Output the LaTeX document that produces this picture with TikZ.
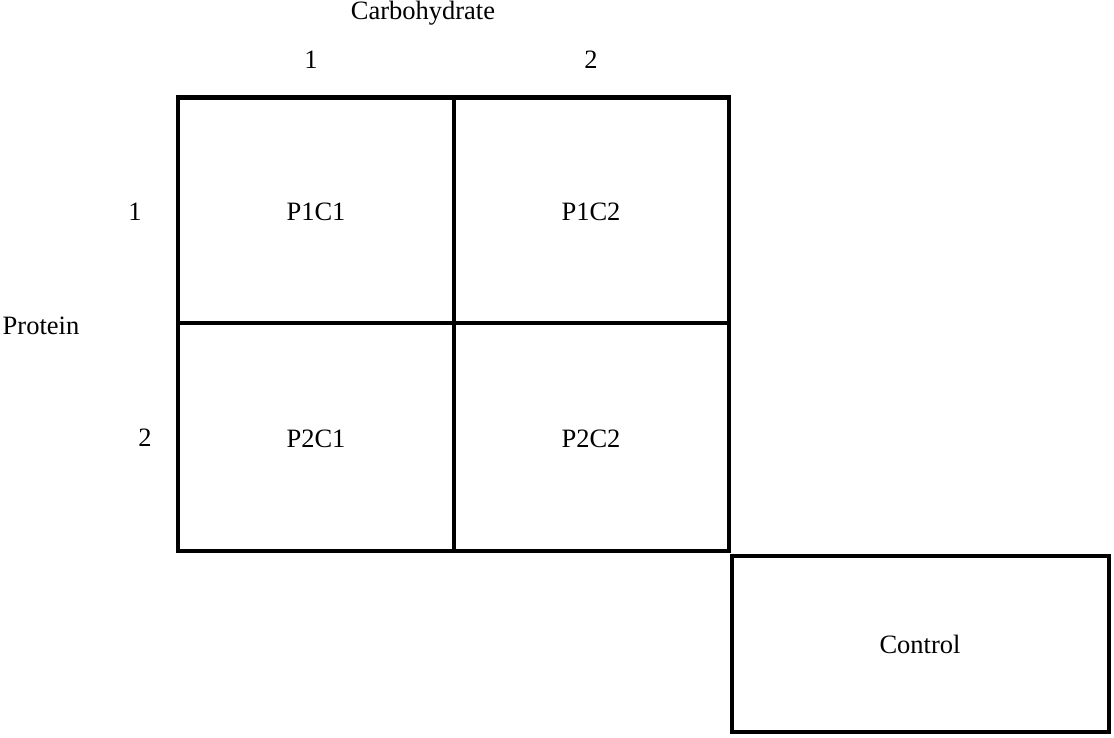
\documentclass[tikz,border=0pt]{standalone}
\usepackage{fontspec}
\setmainfont{Liberation Serif}
\begin{document}
\begin{tikzpicture}[x=1pt,y=-1pt,
  cell/.style={draw=black,line width=4.5pt,rectangle,inner sep=0pt,outer sep=0pt,anchor=north west},
  lbl/.style={inner sep=0pt,font=\fontsize{26.5}{32}\selectfont}]
\useasboundingbox (0,0) rectangle (1114,737);
\node[cell,minimum width=276pt,minimum height=225.5pt] (c11) at (178,97.5) {};
\node[cell,minimum width=275pt,minimum height=225.5pt] (c12) at (454,97.5) {};
\node[cell,minimum width=276pt,minimum height=228pt] (c21) at (178,323) {};
\node[cell,minimum width=275pt,minimum height=228pt] (c22) at (454,323) {};
\node[cell,line width=4pt,minimum width=376.5pt,minimum height=176pt] (ctrl) at (732,556) {};
\node[lbl] (t11) at (316,212) {P1C1};
\node[lbl] (t12) at (591,212) {P1C2};
\node[lbl] (t21) at (316,439) {P2C1};
\node[lbl] (t22) at (591,439) {P2C2};
\node[lbl] (tc) at (920,644) {Control};
\node[lbl] (carb) at (423,13) {Carbohydrate};
\node[lbl] (col1) at (311,60) {1};
\node[lbl] (col2) at (591,60) {2};
\node[lbl] (prot) at (41,326) {Protein};
\node[lbl] (row1) at (135,212) {1};
\node[lbl] (row2) at (145,438) {2};
\end{tikzpicture}
\end{document}
